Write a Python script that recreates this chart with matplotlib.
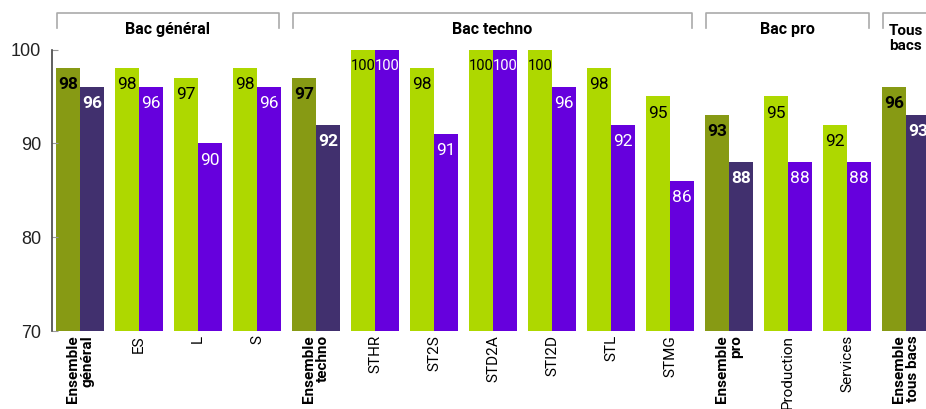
import matplotlib
matplotlib.use("Agg")
import matplotlib.pyplot as plt
from matplotlib.transforms import blended_transform_factory

categories = ["Ensemble\ngénéral", "ES", "L", "S", "Ensemble\ntechno", "STHR", "ST2S",
              "STD2A", "STI2D", "STL", "STMG", "Ensemble\npro", "Production", "Services",
              "Ensemble\ntous bacs"]
series1 = [98, 98, 97, 98, 97, 100, 98, 100, 100, 98, 95, 93, 95, 92, 96]
series2 = [96, 96, 90, 96, 92, 100, 91, 100, 96, 92, 86, 88, 88, 88, 93]
is_total = [True, False, False, False, True, False, False, False, False, False, False,
            True, False, False, True]
groups = ["Bac général", "Bac techno", "Bac pro", "Tous\nbacs"]
group_ranges = [(0, 3), (4, 10), (11, 13), (14, 14)]

C_OLIVE = "#879A14"
C_DPURP = "#41306E"
C_LGREEN = "#AED800"
C_PURP = "#6600DD"

plt.rcParams['font.family'] = ['Roboto', 'DejaVu Sans']

W, H = 926, 409
fig = plt.figure(figsize=(W / 100, H / 100), dpi=100)
ax = fig.add_axes([52 / W, 78 / H, (W - 52) / W, 281.5 / H])

bw = 0.407
xs = list(range(len(categories)))
for i, (a, b) in enumerate(zip(series1, series2)):
    c1 = C_OLIVE if is_total[i] else C_LGREEN
    c2 = C_DPURP if is_total[i] else C_PURP
    ax.bar(i - bw / 2, a - 70, bottom=70, width=bw, color=c1)
    ax.bar(i + bw / 2, b - 70, bottom=70, width=bw, color=c2)
    fw = 'bold' if is_total[i] else 'normal'
    for x, v, col in ((i - bw / 2, a, 'black'), (i + bw / 2, b, 'white')):
        ax.annotate(str(v), (x, v), xytext=(0, -12), textcoords='offset points',
                    ha='center', va='center', fontsize=12.5 if v < 100 else 10.5,
                    color=col, fontweight=fw, clip_on=True)

ax.set_ylim(70, 100)
ax.set_xlim(-0.4746, 14.339)
ax.set_yticks([70, 80, 90, 100])
ax.set_yticklabels(["70", "80", "90", "100"], family='Liberation Sans', fontsize=13,
                   color='#222222')
ax.tick_params(axis='y', direction='in', length=4, color='#999999', pad=8)
ax.set_xticks(xs)
ax.set_xticklabels(categories, rotation=90, fontsize=11, va='top', ha='center',
                   multialignment='right', linespacing=1.0)
for lab, t in zip(ax.get_xticklabels(), is_total):
    if t:
        lab.set_fontweight('bold')
ax.tick_params(axis='x', length=0, pad=3)
for s in ['top', 'right', 'bottom']:
    ax.spines[s].set_visible(False)
ax.spines['left'].set_color('#444444')
ax.spines['left'].set_linewidth(1.2)

tr = blended_transform_factory(ax.transData, ax.transAxes)
for name, (s, e) in zip(groups, group_ranges):
    x0, x1 = s - 0.39, e + 0.37
    ax.plot([x0, x0, x1, x1], [1.076, 1.13, 1.13, 1.076], color='#AAAAAA', lw=1.2,
            transform=tr, clip_on=False)
    if '\n' in name:
        ax.text(x0 + 0.1, 1.09, name, transform=tr, ha='left', va='top', fontsize=11,
                fontweight='bold', linespacing=1.05)
    else:
        ax.text((x0 + x1) / 2, 1.07, name, transform=tr, ha='center', va='center',
                fontsize=11.5, fontweight='bold')

fig.savefig("out.png", dpi=100)
